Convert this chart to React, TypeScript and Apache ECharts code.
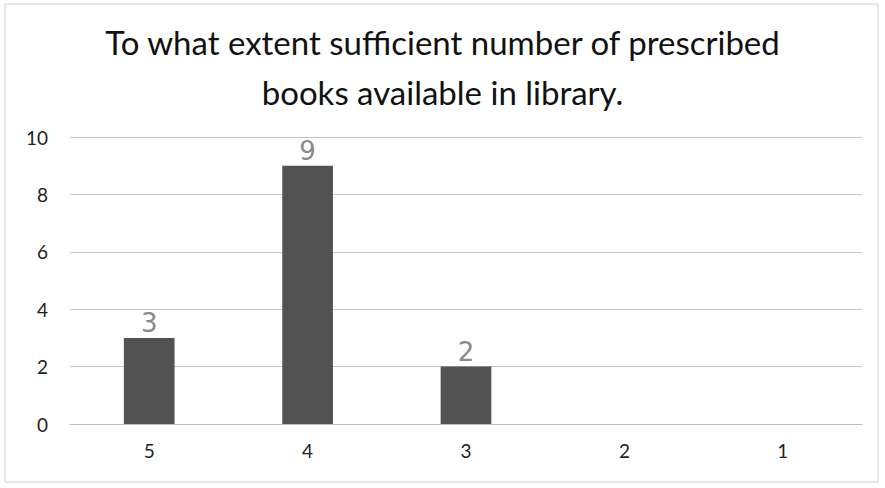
import React, { useEffect, useRef } from "react";
import * as echarts from "echarts";

const categories = ["5", "4", "3", "2", "1"];
const counts = [3, 9, 2, 0, 0];
const handLabels = ["3", "9", "2", "", ""];
const yTicks = { min: 0, max: 10, interval: 2 };
const titleText = "To what extent sufficient number of prescribed\nbooks available in library.";

export default function App() {
  const ref = useRef<HTMLDivElement>(null);
  useEffect(() => {
    if (!ref.current) return;
    const chart = echarts.init(ref.current, null, { renderer: "svg" });
    chart.setOption({
      animation: false,
      backgroundColor: "#ffffff",
      title: {
        text: titleText,
        left: "center",
        top: 12,
        textStyle: {
          fontFamily: "Lato",
          fontWeight: "normal",
          fontSize: 33,
          lineHeight: 50,
          color: "#111",
        },
      },
      graphic: [
        {
          type: "rect",
          shape: { x: 5, y: 4, width: 873, height: 478 },
          style: { fill: "none", stroke: "#d0d0d0", lineWidth: 1 },
          silent: true,
        },
      ],
      grid: { left: 70, right: 23, top: 137, bottom: 64, containLabel: false },
      xAxis: {
        type: "category",
        data: categories,
        axisLine: { show: true, lineStyle: { color: "#bbb" } },
        axisTick: { show: false },
        axisLabel: { fontFamily: "Lato", fontSize: 19, color: "#222", margin: 17 },
      },
      yAxis: {
        type: "value",
        min: yTicks.min,
        max: yTicks.max,
        interval: yTicks.interval,
        axisLine: { show: false },
        axisTick: { show: false },
        splitLine: { lineStyle: { color: "#c4c4c4", width: 1 } },
        axisLabel: { fontFamily: "Lato", fontSize: 19, color: "#222", margin: 22 },
      },
      series: [
        {
          type: "bar",
          data: counts.map((v, i) => ({
            value: v,
            label: {
              show: handLabels[i] !== "",
              formatter: handLabels[i],
            },
          })),
          barWidth: "32%",
          itemStyle: { color: "#525252" },
          label: {
            position: "top",
            distance: 2,
            fontFamily: "DejaVu Sans",
            fontSize: 26,
            color: "#8a8a8a",
          },
        },
      ],
    });
    return () => chart.dispose();
  }, []);
  return (
    <div
      ref={ref}
      style={{ position: "fixed", left: 0, top: 0, width: 885, height: 488 }}
    />
  );
}
